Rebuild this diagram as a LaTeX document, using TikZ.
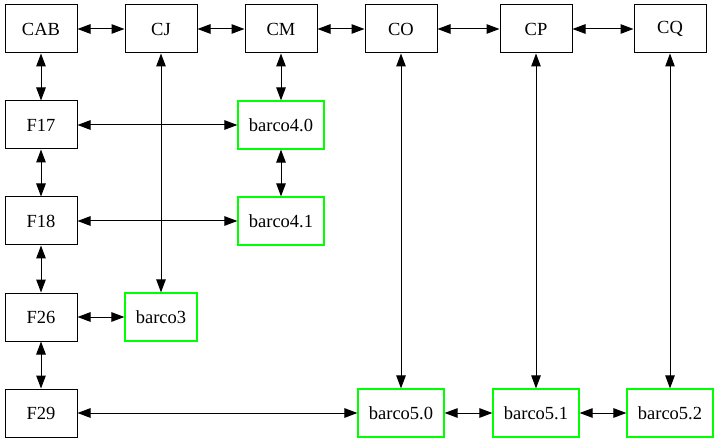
\documentclass[tikz,border=0pt]{standalone}
\usepackage{fontspec}
\setmainfont{Liberation Serif}
\usetikzlibrary{arrows.meta}
\definecolor{edgegreen}{RGB}{0,255,0}
\begin{document}
\begin{tikzpicture}[x=1pt,y=-1pt,
  box/.style={draw=black,line width=1pt,rectangle,minimum width=72pt,minimum height=48pt,inner sep=0pt,font=\fontsize{18.5}{20}\selectfont},
  gbox/.style={box,draw=edgegreen,line width=1.2pt,minimum width=86pt},
  link/.style={line width=1pt,{Triangle[length=13pt,width=9.5pt]}-{Triangle[length=13pt,width=9.5pt]}}]
\useasboundingbox[fill=white] (0,0) rectangle (719,443);
\node[box] (CAB) at (41,29) {CAB};
\node[box] (CJ) at (161,29) {CJ};
\node[box] (CM) at (281,29) {CM};
\node[box] (CO) at (401,29) {CO};
\node[box] (CP) at (536,29) {CP};
\node[box] (CQ) at (670,29) {CQ};
\node[box] (F17) at (41,125) {F17};
\node[box] (F18) at (41,221) {F18};
\node[box] (F26) at (41,317) {F26};
\node[box] (F29) at (41,413) {F29};
\node[gbox] (b40) at (281,125) {barco4.0};
\node[gbox] (b41) at (281,221) {barco4.1};
\node[gbox,minimum width=72pt] (b3) at (161,317) {barco3};
\node[gbox] (b50) at (401,413) {barco5.0};
\node[gbox] (b51) at (536,413) {barco5.1};
\node[gbox] (b52) at (670,413) {barco5.2};
\draw[link] (CAB) -- (CJ);
\draw[link] (CJ) -- (CM);
\draw[link] (CM) -- (CO);
\draw[link] (CO) -- (CP);
\draw[link] (CP) -- (CQ);
\draw[link] (CAB) -- (F17);
\draw[link] (F17) -- (F18);
\draw[link] (F18) -- (F26);
\draw[link] (F26) -- (F29);
\draw[link] (CJ) -- (b3);
\draw[link] (CM) -- (b40);
\draw[link] (b40) -- (b41);
\draw[link] (F17) -- (b40);
\draw[link] (F18) -- (b41);
\draw[link] (F26) -- (b3);
\draw[link] (F29) -- (b50);
\draw[link] (b50) -- (b51);
\draw[link] (b51) -- (b52);
\draw[link] (CO) -- (b50);
\draw[link] (CP) -- (b51);
\draw[link] (CQ) -- (b52);
\end{tikzpicture}
\end{document}
